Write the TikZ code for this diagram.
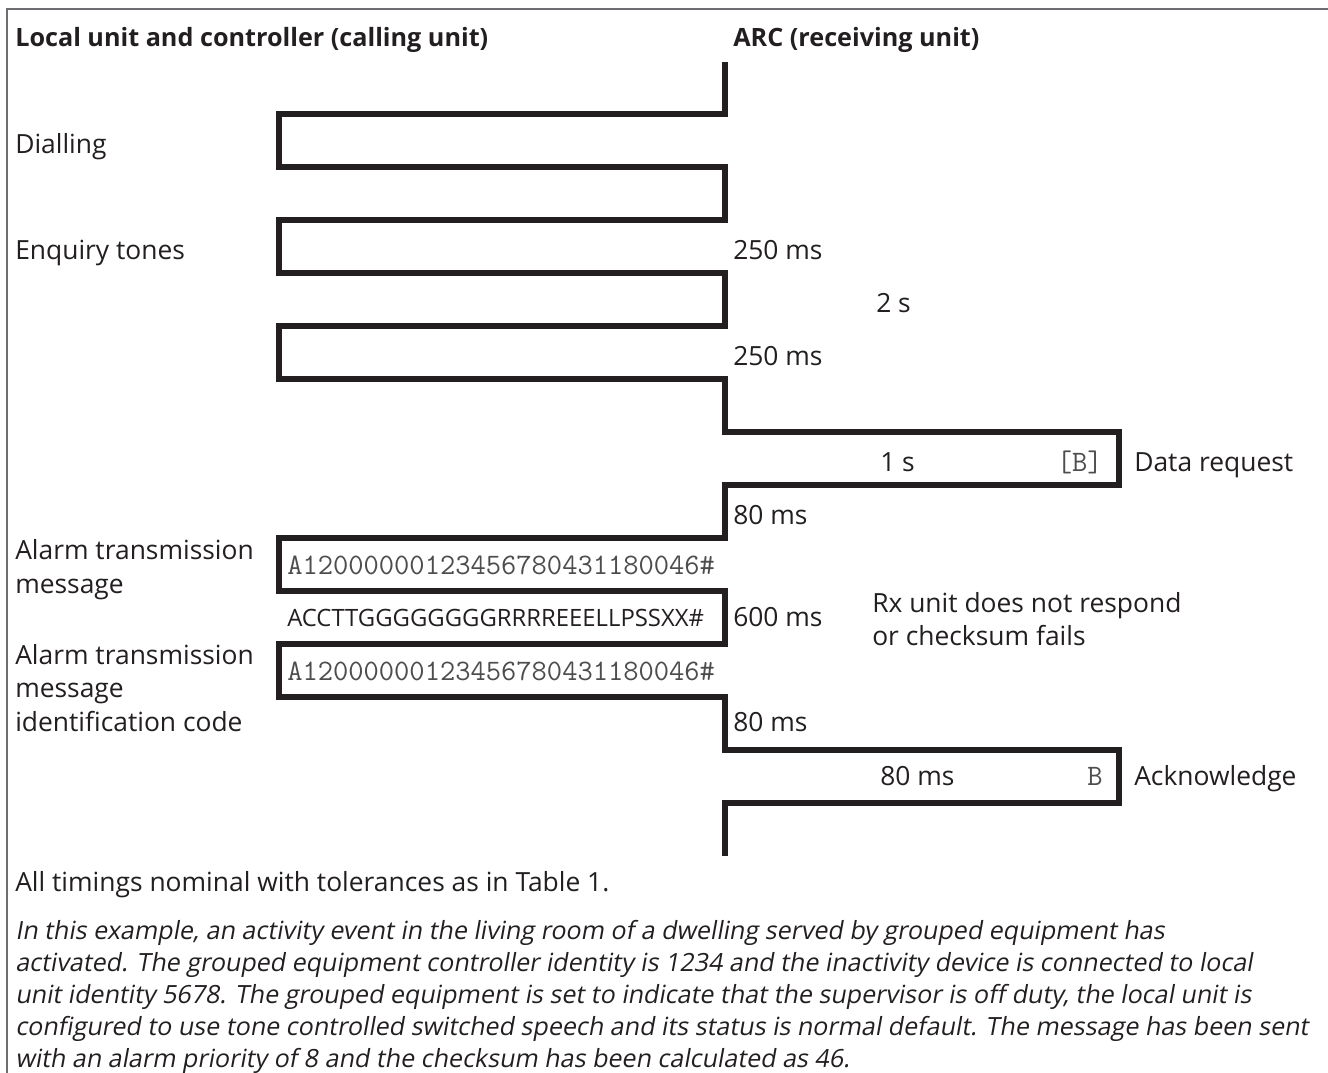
\documentclass[tikz,border=0pt]{standalone}
\usepackage{fontspec}
\setmainfont{Open Sans}
\newfontfamily\slantf[FakeSlant=0.18]{Open Sans}
\definecolor{ink}{HTML}{231F20}
\definecolor{frame}{HTML}{6D6E71}
\begin{document}
\begin{tikzpicture}[x=0.75pt,y=-0.75pt,
  txt/.style={anchor=base west,inner sep=0,text=ink,font=\fontsize{19.8}{24}\selectfont},
  hdr/.style={txt,font=\fontsize{18.9}{24}\selectfont\bfseries},
  mono/.style={anchor=base west,inner sep=0,text=ink!80,font=\ttfamily\fontsize{22.25}{24}\selectfont},
  para/.style={txt,font=\slantf\fontsize{18.8}{24}\selectfont},
  wave/.style={draw=ink,line width=4.1pt,line join=miter}]
\useasboundingbox (0,0) rectangle (1328,1073);
\fill[white] (0,0) rectangle (1328,1073);
% frame
\draw[frame,line width=1.5pt] (7,1073) -- (7,9) -- (1328,9);
% headers
\node[hdr] (hl) at (15,47) {Local unit and controller (calling unit)};
\node[hdr] (hr) at (733,47) {ARC (receiving unit)};
% waveform
\draw[wave] (725,62) -- (725,114) -- (279,114) -- (279,167) -- (725,167)
  -- (725,220) -- (279,220) -- (279,273) -- (725,273) -- (725,326)
  -- (279,326) -- (279,379) -- (725,379) -- (725,432) -- (1119,432)
  -- (1119,485) -- (725,485) -- (725,538) -- (279,538) -- (279,591)
  -- (725,591) -- (725,644) -- (279,644) -- (279,697) -- (725,697)
  -- (725,750) -- (1119,750) -- (1119,803) -- (725,803) -- (725,856);
% left labels
\node[txt] (dial) at (15,154) {Dialling};
\node[txt] (enq) at (15,259.5) {Enquiry tones};
\node[txt] (atm1) at (15,559.5) {Alarm transmission};
\node[txt] (atm1b) at (15,593) {message};
\node[txt] (atm2) at (15,664) {Alarm transmission};
\node[txt] (atm2b) at (15,697.5) {message};
\node[txt] (atm2c) at (15,731) {identification code};
% timing labels
\node[txt] (t250a) at (733,259.5) {250 ms};
\node[txt] (t2s) at (876,312.5) {2 s};
\node[txt] (t250b) at (733,365.5) {250 ms};
\node[txt] (t1s) at (880,471) {1 s};
\node[mono,anchor=base east] (bb) at (1103,471) {[B]};
\node[txt] (dreq) at (1134,471) {Data request};
\node[txt] (t80a) at (733,524) {80 ms};
\node[mono] (m1) at (287,574) {A12000000123456780431180046\#};
\node[txt,font=\fontsize{17.9}{24}\selectfont] (code) at (287,626.5) {ACCTTGGGGGGGGRRRREEELLPSSXX\#};
\node[txt] (t600) at (733,626.5) {600 ms};
\node[txt] (rx1) at (872,612) {Rx unit does not respond};
\node[txt] (rx2) at (872,645) {or checksum fails};
\node[mono] (m2) at (287,680) {A12000000123456780431180046\#};
\node[txt] (t80b) at (733,731) {80 ms};
\node[txt] (t80c) at (880,785.5) {80 ms};
\node[mono,anchor=base east] (b2) at (1103,785.5) {B};
\node[txt] (ack) at (1134,785.5) {Acknowledge};
% notes
\node[txt] (note) at (15,891) {All timings nominal with tolerances as in Table 1.};
\node[para] (p1) at (15,939) {In this example, an activity event in the living room of a dwelling served by grouped equipment has};
\node[para] (p2) at (15,971) {activated. The grouped equipment controller identity is 1234 and the inactivity device is connected to local};
\node[para] (p3) at (15,1003) {unit identity 5678. The grouped equipment is set to indicate that the supervisor is off duty, the local unit is};
\node[para] (p4) at (15,1035) {configured to use tone controlled switched speech and its status is normal default. The message has been sent};
\node[para] (p5) at (15,1067) {with an alarm priority of 8 and the checksum has been calculated as 46.};
\end{tikzpicture}
\end{document}
